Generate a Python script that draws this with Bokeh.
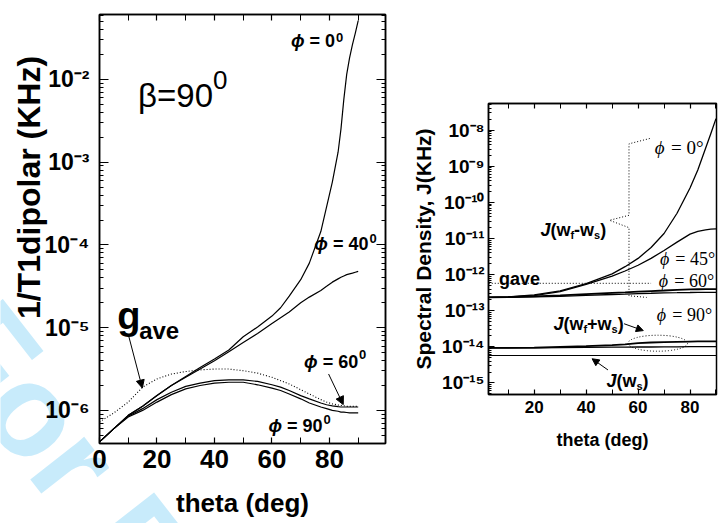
import math
from bokeh.plotting import figure
from bokeh.models import (Range1d, LinearAxis, LogAxis, FixedTicker, CustomJSTickFormatter,
                          Arrow, NormalHead)
from bokeh.core.properties import value
from bokeh.embed import file_html
from bokeh.resources import INLINE

SANS = "Liberation Sans"
SERIF = "Liberation Serif"

# ---------------- Left panel: 1/T1 dipolar vs theta (beta = 90 deg) ----------------
theta_left = [0, 5, 10, 15, 20, 25, 30, 35, 40, 45, 50, 55, 60, 63, 66, 70, 73, 77, 79, 81,
              83, 84, 85, 86, 87, 88, 89, 90]
t1_phi0 = [4.17e-7, 6.03e-7, 8.71e-7, 1.12e-6, 1.51e-6, 2.00e-6, 2.57e-6, 3.31e-6, 4.17e-6,
           5.37e-6, 7.76e-6, 1.02e-5, 1.38e-5, 1.74e-5, 2.40e-5, 3.80e-5, 6.03e-5, 1.45e-4,
           2.88e-4, 5.75e-4, 1.32e-3, 2.51e-3, 5.75e-3, 1.15e-2, 1.82e-2, 2.63e-2, 3.63e-2, 5.13e-2]
t1_phi40 = [4.17e-7, 6.03e-7, 8.71e-7, 1.12e-6, 1.51e-6, 2.00e-6, 2.51e-6, 3.16e-6, 3.98e-6,
            5.13e-6, 6.61e-6, 8.51e-6, 1.12e-5, 1.32e-5, 1.55e-5, 2.00e-5, 2.34e-5, 2.82e-5,
            3.16e-5, 3.55e-5, 3.89e-5, 4.07e-5, 4.22e-5, 4.37e-5, 4.47e-5, 4.57e-5, 4.68e-5, 4.79e-5]
t1_phi60 = [4.17e-7, 6.03e-7, 8.51e-7, 1.05e-6, 1.35e-6, 1.66e-6, 1.95e-6, 2.14e-6, 2.29e-6,
            2.34e-6, 2.34e-6, 2.24e-6, 2.04e-6, 1.91e-6, 1.74e-6, 1.51e-6, 1.38e-6, 1.23e-6,
            1.17e-6, 1.135e-6, 1.11e-6, 1.10e-6, 1.10e-6, 1.10e-6, 1.10e-6, 1.10e-6, 1.10e-6, 1.10e-6]
t1_phi90 = [4.17e-7, 6.03e-7, 8.32e-7, 1.00e-6, 1.26e-6, 1.55e-6, 1.82e-6, 2.00e-6, 2.14e-6,
            2.19e-6, 2.19e-6, 2.04e-6, 1.86e-6, 1.74e-6, 1.58e-6, 1.38e-6, 1.23e-6, 1.10e-6,
            1.05e-6, 1.00e-6, 9.77e-7, 9.55e-7, 9.55e-7, 9.44e-7, 9.33e-7, 9.33e-7, 9.33e-7, 9.33e-7]
t1_gave = [7.24e-7, 9.33e-7, 1.26e-6, 1.91e-6, 2.40e-6, 2.75e-6, 2.95e-6, 3.09e-6, 3.16e-6,
           3.16e-6, 3.02e-6, 2.82e-6, 2.51e-6, 2.29e-6, 2.09e-6, 1.78e-6, 1.58e-6, 1.35e-6,
           1.26e-6, 1.20e-6, 1.16e-6, 1.15e-6, 1.14e-6, 1.12e-6, 1.12e-6, 1.12e-6, 1.12e-6, 1.12e-6]

left_x_ticks = [0, 20, 40, 60, 80]
left_x_minor = [10, 30, 50, 70, 90]
left_y_ticks = [1e-6, 1e-5, 1e-4, 1e-3, 1e-2]

# ---------------- Right panel: spectral densities vs theta ----------------
theta_right = [2.5, 10, 20, 30, 40, 50, 55, 60, 65, 70, 75, 80, 83, 86, 88, 90]
J_phi0 = [2.34e-13, 2.40e-13, 2.75e-13, 3.55e-13, 5.62e-13, 1.05e-12, 1.66e-12, 2.82e-12,
          5.62e-12, 1.38e-11, 5.01e-11, 2.51e-10, 7.94e-10, 3.16e-9, 7.94e-9, 2.09e-8]
J_phi45 = [2.34e-13, 2.40e-13, 2.63e-13, 3.39e-13, 5.37e-13, 9.12e-13, 1.26e-12, 1.82e-12,
           2.82e-12, 4.68e-12, 7.94e-12, 1.32e-11, 1.58e-11, 1.74e-11, 1.82e-11, 1.86e-11]
J_phi60 = [2.34e-13, 2.37e-13, 2.51e-13, 2.66e-13, 2.88e-13, 3.13e-13, 3.24e-13, 3.39e-13,
           3.51e-13, 3.63e-13, 3.76e-13, 3.89e-13, 3.94e-13, 3.98e-13, 3.98e-13, 3.98e-13]
J_phi90 = [2.34e-13, 2.36e-13, 2.43e-13, 2.51e-13, 2.66e-13, 2.82e-13, 2.88e-13, 2.99e-13,
           3.05e-13, 3.13e-13, 3.16e-13, 3.20e-13, 3.24e-13, 3.24e-13, 3.24e-13, 3.24e-13]
J_sum_phi0 = [9.33e-15, 9.33e-15, 9.55e-15, 1.00e-14, 1.05e-14, 1.12e-14, 1.17e-14, 1.26e-14,
              1.32e-14, 1.35e-14, 1.38e-14, 1.40e-14, 1.41e-14, 1.41e-14, 1.41e-14, 1.41e-14]
J_sum_phi90 = [9.33e-15, 9.33e-15, 9.44e-15, 9.55e-15, 9.66e-15, 9.77e-15, 9.77e-15, 9.89e-15,
               9.89e-15, 1.00e-14, 1.00e-14, 1.02e-14, 1.02e-14, 1.02e-14, 1.02e-14, 1.02e-14]
theta_ws = [2.5, 90]
J_ws = [5.75e-15, 5.75e-15]
theta_gave_r = [2.5, 65]
J_gave_r = [5.75e-13, 5.75e-13]

right_x_ticks = [20, 40, 60, 80]
right_x_minor = [10, 30, 50, 70, 90]
right_y_ticks = [1e-15, 1e-14, 1e-13, 1e-12, 1e-11, 1e-10, 1e-9, 1e-8]

# bracket (dotted) joining the J(wf-ws) label to its curves
bracket_theta = [64.5, 56.5, 56.5, 49.0, 56.5, 56.5, 63.3]
bracket_J = [5.9e-9, 4.2e-9, 4.4e-11, 3.2e-11, 2.0e-11, 2.6e-13, 2.34e-13]

SUP = CustomJSTickFormatter(code="""
const m = {"-": "\u207b", "0": "\u2070", "1": "\u00b9", "2": "\u00b2", "3": "\u00b3",
           "4": "\u2074", "5": "\u2075", "6": "\u2076", "7": "\u2077", "8": "\u2078", "9": "\u2079"};
const e = Math.round(Math.log10(tick));
let s = "";
for (const c of String(e)) { s += m[c]; }
return "10" + s;
""")
BLANK = CustomJSTickFormatter(code="return '';")


def log_minor(e0, e1):
    return [m * 10.0 ** e for e in range(e0, e1) for m in range(2, 10)]


def style_axis(ax, size, tin, minor_in):
    ax.axis_line_width = 1.5
    ax.axis_line_color = "black"
    ax.major_tick_in = tin
    ax.major_tick_out = 0
    ax.minor_tick_in = minor_in
    ax.minor_tick_out = 0
    ax.major_tick_line_width = 1.2
    ax.minor_tick_line_width = 1
    ax.major_tick_line_color = "black"
    ax.minor_tick_line_color = "black"
    ax.major_label_text_font = SANS
    ax.major_label_text_font_style = "bold"
    ax.major_label_text_font_size = size
    ax.major_label_text_color = "black"
    ax.axis_label_text_font = SANS
    ax.axis_label_text_font_style = "bold"
    ax.axis_label_text_color = "black"


def piece(p, x, y, s, size, style="bold", font=SANS, align="left", xoff=0, yoff=0,
          color="black", angle=0.0, baseline="alphabetic"):
    p.text(x=[x], y=[y], text=[s], text_font=value(font), text_font_size=f"{size}px",
           text_font_style=style, text_align=align, text_baseline=baseline, angle=angle,
           x_offset=xoff, y_offset=yoff, text_color=color)


W = {'J': 0.556, '(': 0.333, ')': 0.333, 'w': 0.778, 'f': 0.333, 's': 0.556, '-': 0.333, '+': 0.584,
     ' ': 0.278, '=': 0.584, '0': 0.556, '4': 0.556, '6': 0.556, '9': 0.556}


def rich(p, x, y, parts):
    off = 0.0
    for s, size, dy, style in parts:
        piece(p, x, y, s, size, style=style, xoff=off, yoff=dy)
        off += sum(W.get(c, 0.55) for c in s) * size


# ====================== BACKGROUND LAYER (watermark + left y title) ======================
wm = figure(width=408, height=523, x_range=Range1d(0, 408), y_range=Range1d(523, 0),
            output_backend="svg", toolbar_location=None, min_border=0,
            x_axis_location=None, y_axis_location=None,
            styles={"position": "absolute", "left": "0px", "top": "0px", "z-index": "-1"})
wm.outline_line_color = None
wm.background_fill_color = None
wm.border_fill_color = None
wm.grid.visible = False
piece(wm, -38, 319, "For Peer Review", 130, color="#c8ebfb", angle=-0.9076)
piece(wm, 28, 187, "1/T1dipolar (KHz)", 32, align="center", baseline="middle", angle=math.pi / 2)

# ====================== LEFT FIGURE ======================
p1 = figure(width=408, height=523, x_range=Range1d(0, 99.5), y_range=Range1d(10 ** -6.4, 10 ** -1.215),
            y_axis_type="log", output_backend="svg", toolbar_location=None,
            min_border_left=99, min_border_right=23, min_border_top=14, min_border_bottom=80)
p1.grid.visible = False
p1.outline_line_color = "black"
p1.outline_line_width = 1.5
p1.background_fill_color = None
p1.border_fill_color = None

p1.xaxis.ticker = FixedTicker(ticks=left_x_ticks, minor_ticks=left_x_minor)
p1.yaxis.ticker = FixedTicker(ticks=left_y_ticks, minor_ticks=log_minor(-7, -1))
p1.yaxis.formatter = SUP
style_axis(p1.xaxis[0], "26px", 6, 6)
style_axis(p1.yaxis[0], "23px", 9, 4)
p1.xaxis.axis_label = "theta (deg)"
p1.xaxis.axis_label_text_font_size = "26px"
p1.xaxis.axis_label_standoff = 17
p1.xaxis.major_label_standoff = 6
p1.yaxis.major_label_standoff = 10

top1 = LinearAxis(ticker=FixedTicker(ticks=left_x_ticks, minor_ticks=left_x_minor), formatter=BLANK)
style_axis(top1, "1px", 6, 6)
top1.major_label_standoff = 0
p1.add_layout(top1, "above")
right1 = LogAxis(ticker=FixedTicker(ticks=left_y_ticks, minor_ticks=log_minor(-7, -1)), formatter=BLANK)
style_axis(right1, "1px", 9, 4)
right1.major_label_standoff = 0
p1.add_layout(right1, "right")

for ys in (t1_phi0, t1_phi40, t1_phi60, t1_phi90):
    p1.line(theta_left, ys, line_color="black", line_width=1.2)
p1.line(theta_left, t1_gave, line_color="black", line_width=1.1, line_dash="1 2")

# annotations left
piece(p1, 39.5, 10 ** -2.19, "\u03b2=90", 33, style="normal", align="right")
piece(p1, 39.5, 10 ** -2.01, "0", 26, style="normal")
piece(p1, 6.2, 10 ** -4.857, "g", 38)
piece(p1, 13.8, 10 ** -5.04, "ave", 24)
for tx, ty, sx, sy, lab in [(81.97, -1.54, 81.97, -1.49, "= 0"),
                            (93.6, -3.99, 93.6, -3.92, "= 40"),
                            (90.0, -5.41, 90.0, -5.33, "= 60"),
                            (77.6, -6.19, 77.6, -6.11, "= 90")]:
    wlab = (sum(W[c] for c in lab) + 0.278) * 18
    piece(p1, tx, 10 ** ty, lab, 18, align="right")
    piece(p1, tx, 10 ** ty, "\u03d5", 18, style="bold italic", align="right", xoff=-wlab)
    piece(p1, sx + 0.3, 10 ** sy, "0", 13)

p1.add_layout(Arrow(end=NormalHead(size=8, fill_color="black", line_color="black"),
                    x_start=10.0, y_start=10 ** -5.08, x_end=14.9, y_end=10 ** -5.73,
                    line_width=1, line_color="black"))
p1.add_layout(Arrow(end=NormalHead(size=8, fill_color="black", line_color="black"),
                    x_start=79.7, y_start=10 ** -5.56, x_end=84.8, y_end=10 ** -5.93,
                    line_width=1, line_color="black"))

# ====================== RIGHT FIGURE ======================
p2 = figure(width=311, height=523, x_range=Range1d(2.4, 90.2), y_range=Range1d(10 ** -15.32, 10 ** -7.26),
            y_axis_type="log", output_backend="svg", toolbar_location=None,
            min_border_left=71, min_border_right=3, min_border_top=103, min_border_bottom=129)
p2.grid.visible = False
p2.outline_line_color = "black"
p2.outline_line_width = 1.5
p2.background_fill_color = "white"
p2.border_fill_color = "white"

p2.xaxis.ticker = FixedTicker(ticks=right_x_ticks, minor_ticks=right_x_minor)
p2.yaxis.ticker = FixedTicker(ticks=right_y_ticks, minor_ticks=log_minor(-16, -7))
p2.yaxis.formatter = SUP
style_axis(p2.xaxis[0], "17px", 5, 5)
style_axis(p2.yaxis[0], "19px", 6, 3)
p2.xaxis.axis_label = "theta (deg)"
p2.xaxis.axis_label_text_font_size = "18px"
p2.xaxis.axis_label_standoff = 14
p2.xaxis.major_label_standoff = 6
p2.yaxis.axis_label = "Spectral Density, J(KHz)"
p2.yaxis.axis_label_text_font_size = "21px"
p2.yaxis.axis_label_standoff = 4
p2.yaxis.major_label_standoff = 4

top2 = LinearAxis(ticker=FixedTicker(ticks=right_x_ticks, minor_ticks=right_x_minor), formatter=BLANK)
style_axis(top2, "1px", 5, 5)
top2.major_label_standoff = 0
p2.add_layout(top2, "above")

p2.line(theta_right, J_phi0, line_color="black", line_width=1.3)
p2.line(theta_right, J_phi45, line_color="black", line_width=1.3)
p2.line(theta_right, J_phi60, line_color="black", line_width=1.8)
p2.line(theta_right, J_phi90, line_color="black", line_width=1.3)
p2.line(theta_right, J_sum_phi0, line_color="black", line_width=1.8)
p2.line(theta_right, J_sum_phi90, line_color="black", line_width=1.3)
p2.line(theta_ws, J_ws, line_color="black", line_width=1.1)
p2.line(theta_gave_r, J_gave_r, line_color="black", line_width=1, line_dash="1 2")
p2.line(bracket_theta, bracket_J, line_color="black", line_width=1, line_dash="1 2")
p2.ellipse(x=[67.6], y=[1.26e-14], width=[22.9], height=[16], height_units="screen",
           fill_color=None, line_color="black", line_width=1, line_dash="1 2")

for tx, ty, size, lab in [(66.4, -8.48, 19, "= 0\u00b0"), (68.4, -11.56, 18, "= 45\u00b0"),
                          (68.0, -12.17, 18, "= 60\u00b0"), (67.2, -13.11, 18, "= 90\u00b0")]:
    piece(p2, tx, 10 ** ty, "\u03d5", size, style="italic", font=SERIF)
    piece(p2, tx, 10 ** ty, lab, size, style="normal", font=SERIF, xoff=0.86 * size)
piece(p2, 6.4, 10 ** -12.11, "gave", 18)

rich(p2, 22.4, 10 ** -10.75, [("J", 18, 0, "bold italic"), ("(w", 18, 0, "bold"), ("f", 11, 5, "bold"),
                              ("-w", 18, 0, "bold"), ("s", 11, 5, "bold"), (")", 18, 0, "bold")])
rich(p2, 27.4, 10 ** -13.37, [("J", 18, 0, "bold italic"), ("(w", 18, 0, "bold"), ("f", 11, 5, "bold"),
                              ("+w", 18, 0, "bold"), ("s", 11, 5, "bold"), (")", 18, 0, "bold")])
rich(p2, 47.8, 10 ** -14.94, [("J", 18, 0, "bold italic"), ("(w", 18, 0, "bold"), ("s", 11, 5, "bold"),
                              (")", 18, 0, "bold")])

p2.add_layout(Arrow(end=NormalHead(size=7, fill_color="black", line_color="black"),
                    x_start=54.6, y_start=10 ** -13.36, x_end=62.0, y_end=10 ** -13.55,
                    line_width=1, line_color="black"))
p2.add_layout(Arrow(end=NormalHead(size=7, fill_color="black", line_color="black"),
                    x_start=48.4, y_start=10 ** -14.64, x_end=42.3, y_end=10 ** -14.33,
                    line_width=1, line_color="black"))

# independent roots placed side by side (no frame alignment); watermark layer sits behind
html = file_html([wm, p1, p2], INLINE, title="plot")
html = html.replace("</head>",
                    "<style>body{display:flex;flex-direction:row;align-items:flex-start;}</style></head>", 1)
open("out.html", "w").write(html)
